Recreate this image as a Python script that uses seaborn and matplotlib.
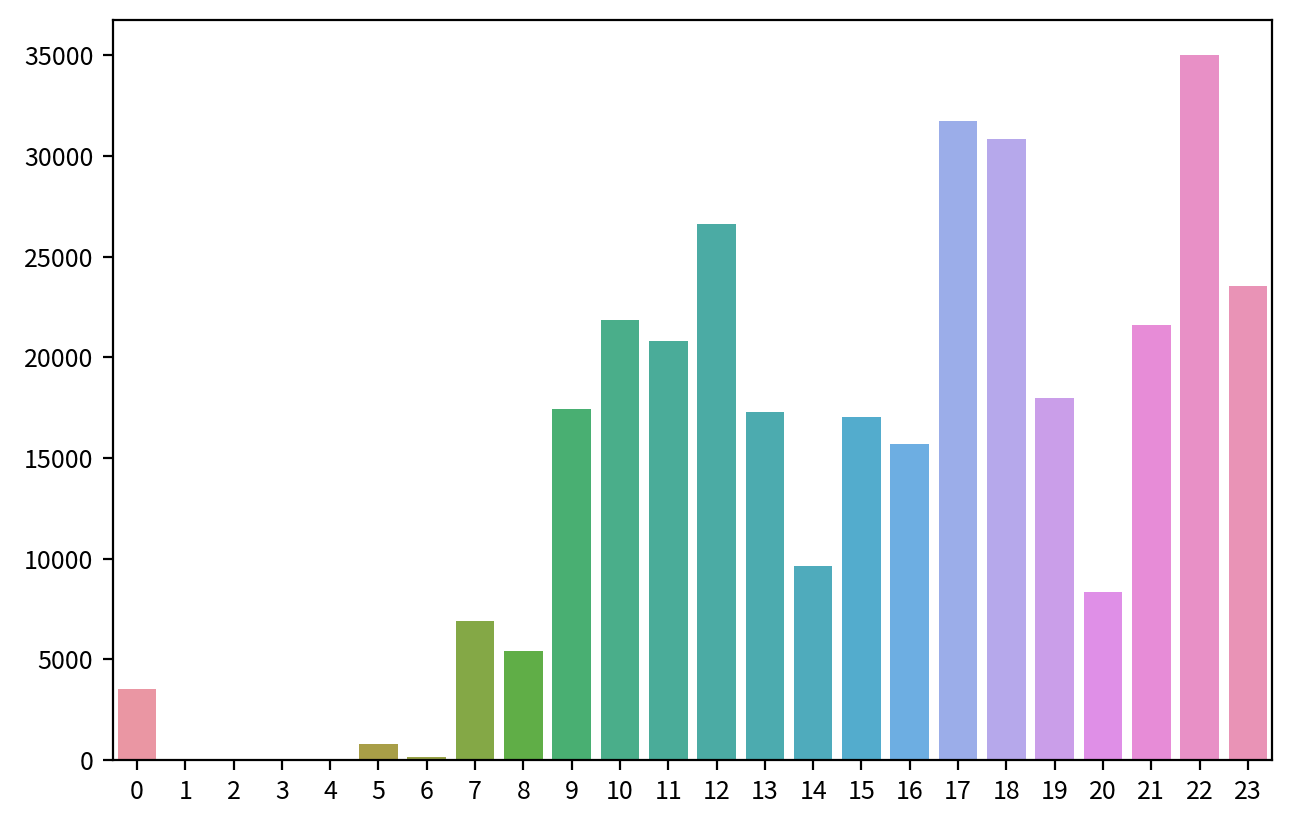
import matplotlib
matplotlib.use("Agg")
import matplotlib.pyplot as plt
import seaborn as sns
import pandas as pd

hours = [str(h) for h in range(24)]
counts = [3530, 0, 0, 0, 0, 800, 150, 6910, 5420, 17450, 21870, 20830,
          26600, 17300, 9650, 17050, 15710, 31720, 30820, 18000, 8350,
          21580, 35000, 23520]

plt.rcParams['font.family'] = ['Noto Sans CJK SC', 'DejaVu Sans']
plt.rcParams['font.size'] = 9

df = pd.DataFrame({"hour": hours, "count": counts})
palette = sns.husl_palette(len(hours), l=.7)

fig = plt.figure(figsize=(6.56, 4.065), dpi=200)
ax = fig.add_axes([0.086, 0.0652, 0.8835, 0.9102])
sns.barplot(data=df, x="hour", y="count", hue="hour", palette=palette,
            legend=False, ax=ax, saturation=0.75)
ax.set_xlabel("")
ax.set_ylabel("")
fig.savefig("out.png", dpi=200)
